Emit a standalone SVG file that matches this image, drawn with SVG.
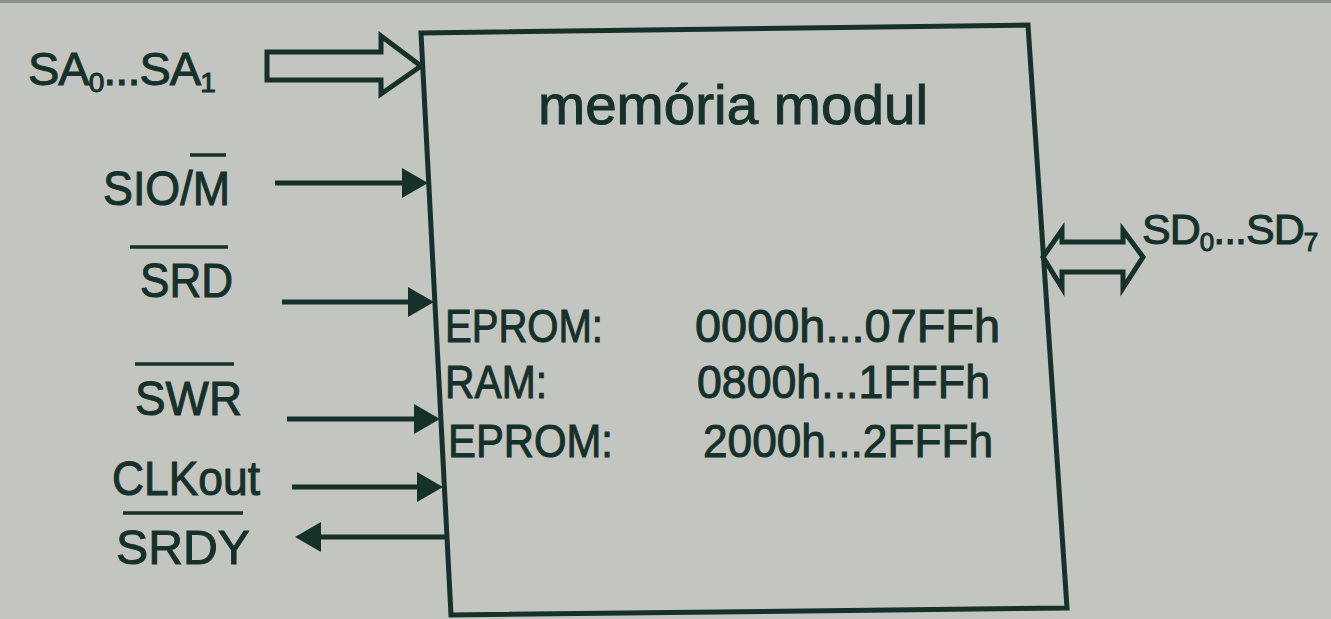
<svg xmlns="http://www.w3.org/2000/svg" width="1331" height="619" viewBox="0 0 1331 619">
<style>
.bg{fill:#c3c5c1}
.ink{fill:#16302a}
.t{font-family:"Liberation Sans",Arial,sans-serif;fill:#16302a;stroke:#16302a;stroke-width:1}
.ln{stroke:#16302a;stroke-width:5;fill:none}
.bar{stroke:#16302a;stroke-width:3.5}
.hollow{stroke:#16302a;stroke-width:5;fill:none;stroke-linejoin:miter}
.box{stroke:#16302a;stroke-width:5;fill:none;stroke-linejoin:miter}
</style>
<defs>
<marker id="ah" markerUnits="userSpaceOnUse" markerWidth="26" markerHeight="32" viewBox="0 0 26 32" refX="6" refY="16" orient="auto">
<path d="M0,1 L26,16 L0,31 Z" class="ink"/>
</marker>
</defs>
<rect class="bg" x="0" y="0" width="1331" height="619"/>
<rect x="0" y="0" width="1331" height="3" fill="#8a8f8a"/>

<g id="module">
<path class="box" d="M421,33 L1028,25 L1067,608 L451,615 Z"/>
<text class="t" x="538" y="124" font-size="56" textLength="390" lengthAdjust="spacingAndGlyphs">memória modul</text>
<text class="t" x="445" y="342" font-size="46" textLength="158" lengthAdjust="spacingAndGlyphs">EPROM:</text>
<text class="t" x="695" y="342" font-size="46" textLength="305" lengthAdjust="spacingAndGlyphs">0000h...07FFh</text>
<text class="t" x="445" y="398" font-size="46" textLength="102" lengthAdjust="spacingAndGlyphs">RAM:</text>
<text class="t" x="697" y="398" font-size="46" textLength="293" lengthAdjust="spacingAndGlyphs">0800h...1FFFh</text>
<text class="t" x="448" y="457" font-size="46" textLength="165" lengthAdjust="spacingAndGlyphs">EPROM:</text>
<text class="t" x="703" y="457" font-size="46" textLength="290" lengthAdjust="spacingAndGlyphs">2000h...2FFFh</text>
</g>

<g id="label-sa">
<text class="t" x="28" y="85" font-size="47" letter-spacing="-1">SA<tspan font-size="28" dy="7">0</tspan><tspan dy="-7">...SA</tspan><tspan font-size="28" dy="7">1</tspan></text>
</g>
<g id="label-siom">
<text class="t" x="103" y="205" font-size="48" textLength="127" lengthAdjust="spacingAndGlyphs">SIO/M</text>
<line class="bar" x1="190" y1="155" x2="226" y2="155"/>
</g>
<g id="label-srd">
<text class="t" x="140" y="297" font-size="48" textLength="93" lengthAdjust="spacingAndGlyphs">SRD</text>
<line class="bar" x1="130" y1="247" x2="228" y2="247"/>
</g>
<g id="label-swr">
<text class="t" x="135" y="415" font-size="48" textLength="107" lengthAdjust="spacingAndGlyphs">SWR</text>
<line class="bar" x1="135" y1="364" x2="234" y2="364"/>
</g>
<g id="label-clkout">
<text class="t" x="112" y="495" font-size="48" textLength="148" lengthAdjust="spacingAndGlyphs">CLKout</text>
</g>
<g id="label-srdy">
<text class="t" x="116" y="564" font-size="48" textLength="134" lengthAdjust="spacingAndGlyphs">SRDY</text>
<line class="bar" x1="123" y1="513" x2="243" y2="513"/>
</g>
<g id="label-sd">
<text class="t" x="1142" y="244" font-size="43" letter-spacing="-1">SD<tspan font-size="26" dy="7">0</tspan><tspan dy="-7">...SD</tspan><tspan font-size="26" dy="7">7</tspan></text>
</g>

<g id="connectors">
<path class="hollow" d="M267,52 L381,52 L381,36 L421,66 L381,94 L381,80 L267,80 Z"/>
<line class="ln" x1="275" y1="183" x2="408" y2="183" marker-end="url(#ah)"/>
<line class="ln" x1="282" y1="302" x2="414" y2="302" marker-end="url(#ah)"/>
<line class="ln" x1="287" y1="419" x2="420" y2="419" marker-end="url(#ah)"/>
<line class="ln" x1="292" y1="487" x2="423" y2="487" marker-end="url(#ah)"/>
<line class="ln" x1="446" y1="537" x2="315" y2="537" marker-end="url(#ah)"/>
<path class="hollow" d="M1043,257 L1062,230 L1062,242 L1123,242 L1123,230 L1143,257 L1123,288 L1123,272 L1062,272 L1062,288 Z"/>
</g>
</svg>
